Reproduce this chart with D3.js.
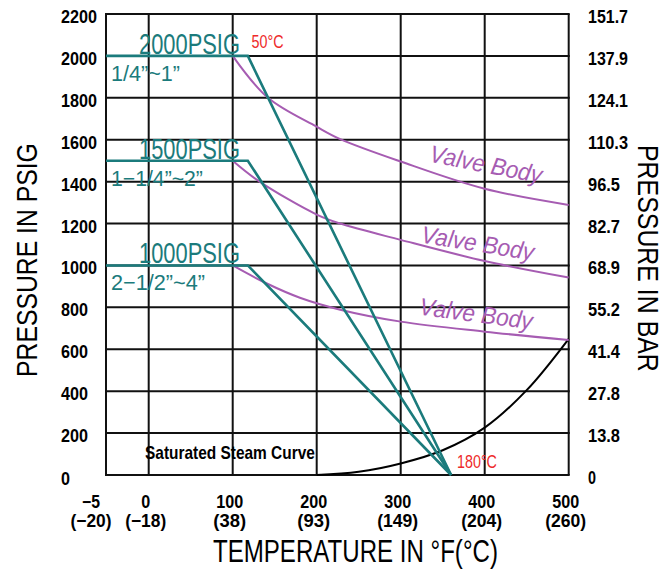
<!DOCTYPE html>
<html><head><meta charset="utf-8">
<script src="https://cdn.jsdelivr.net/npm/d3@7"></script>
<style>body{margin:0;background:#fff}svg{display:block}</style>
</head><body>
<svg id="c" width="665" height="572"></svg>
<script>
// ---- data ----
const tempTicks = [-5, 0, 100, 200, 300, 400, 500];
const tempTicksC = ["(\u221220)", "(\u221218)", "(38)", "(93)", "(149)", "(204)", "(260)"];
const psigTicks = [0, 200, 400, 600, 800, 1000, 1200, 1400, 1600, 1800, 2000, 2200];
const barTicks = ["0", "13.8", "27.8", "41.4", "55.2", "68.9", "82.7", "96.5", "110.3", "124.1", "137.9", "151.7"];
const ratingPsig = [2000, 1500, 1000];
const ratingLabels = ["2000PSIG", "1500PSIG", "1000PSIG"];
const sizeLabels = ["1/4\u201d~1\u201d", "1\u22121/4\u201d~2\u201d", "2\u22121/2\u201d~4\u201d"];
const seatStartTemp = -5, seatBendTemp = 118, seatZeroTemp = 360;
const valveBody2000 = [[100, 2000], [142, 1800], [200, 1662], [228, 1603], [300, 1496], [400, 1366], [500, 1289]];
const valveBody1500 = [[100, 1500], [132, 1400], [200, 1243], [228, 1200], [300, 1122], [400, 1021], [500, 942]];
const valveBody1000 = [[100, 1000], [140, 915], [180, 846], [228, 789], [300, 732], [400, 684], [500, 644]];
const steamCurve = [[200, 0], [250, 15], [300, 55], [350, 118], [400, 226], [450, 405], [500, 650]];
const tempNotes = ["50\u00b0C", "180\u00b0C"];

// ---- drawing ----
const svg = d3.select("#c");
const x = d3.scaleLinear().domain([-5, 0, 500]).range([106, 148.7, 568.7]);
const y = d3.scaleLinear().domain([0, 2200]).range([475, 14]);
const TEAL = "#1b7b7c", PURPLE = "#a65cb2", RED = "#ee2a2a";
const NARROW = "'Liberation Sans Narrow','Arial Narrow','Liberation Sans',sans-serif";
const THIN = "'Liberation Sans','DejaVu Sans',sans-serif";

// grid
const g = svg.append("g");
g.selectAll("line.v").data(tempTicks).enter().append("line")
  .attr("x1", d => x(d)).attr("x2", d => x(d)).attr("y1", y(2200)).attr("y2", y(0))
  .attr("stroke", "#111").attr("stroke-width", 2);
g.selectAll("line.h").data(psigTicks).enter().append("line")
  .attr("x1", x(-5) - 1).attr("x2", x(500) + 1).attr("y1", d => y(d)).attr("y2", d => y(d))
  .attr("stroke", "#111").attr("stroke-width", 2);

// scaled-text helper
function stretched(parent, str, tx, ty, size, w, sy, attrs) {
  const t = parent.append("text").attr("font-size", size).text(str);
  Object.entries(attrs || {}).forEach(([k, v]) => t.attr(k, v));
  const nat = t.node().getComputedTextLength() || w;
  const sx = w / nat;
  t.attr("transform", `translate(${tx},${ty}) scale(${sx},${sy})`);
  return t;
}

// left axis labels
psigTicks.forEach(d => {
  stretched(svg, String(d), 61, y(d) + 9 + (d === 0 ? 1 : 0), 17, String(d).length * 9, 1.05,
    {"font-family": NARROW, "font-weight": "bold"});
});
// right axis labels
psigTicks.forEach((d, i) => {
  stretched(svg, barTicks[i], 588, y(d) + 9, 17, barTicks[i].length * 8, 1.05,
    {"font-family": NARROW, "font-weight": "bold"});
});
// x axis labels
tempTicks.forEach((d, i) => {
  const cx = x(d) - (i === 0 ? 15 : 3);
  const s1 = d < 0 ? "\u2212" + Math.abs(d) : String(d);
  const w1 = s1.length * 9;
  stretched(svg, s1, cx - w1 / 2, 508, 17, w1, 1.05, {"font-family": NARROW, "font-weight": "bold"});
  const s2 = tempTicksC[i];
  const w2 = s2.length * 8.2;
  stretched(svg, s2, cx - w2 / 2, 527, 17, w2, 1.05, {"font-family": NARROW, "font-weight": "bold"});
});

// axis titles
stretched(svg.append("g").attr("transform", "translate(37,377) rotate(-90)"),
  "PRESSURE IN PSIG", 0, 0, 26, 234, 1.15, {"font-family": THIN});
stretched(svg.append("g").attr("transform", "translate(638,145) rotate(90)"),
  "PRESSURE IN BAR", 0, 0, 26, 227, 1.15, {"font-family": THIN});
stretched(svg, "TEMPERATURE IN \u00b0F(\u00b0C)", 213, 562, 28, 285, 1.15, {"font-family": THIN});

const line = d3.line().x(d => x(d[0])).y(d => y(d[1]));
const curve = d3.line().x(d => x(d[0])).y(d => y(d[1])).curve(d3.curveCatmullRom.alpha(0.5));

// steam curve
svg.append("path").attr("d", curve(steamCurve)).attr("fill", "none")
  .attr("stroke", "#000").attr("stroke-width", 2);

// valve body curves
[valveBody2000, valveBody1500, valveBody1000].forEach(c => {
  svg.append("path").attr("d", curve(c)).attr("fill", "none")
    .attr("stroke", PURPLE).attr("stroke-width", 2);
});

// seat rating lines
ratingPsig.forEach(p => {
  svg.append("path").attr("d", line([[seatStartTemp, p], [seatBendTemp, p], [seatZeroTemp, 0]]))
    .attr("fill", "none").attr("stroke", TEAL).attr("stroke-width", 2.6).attr("stroke-linejoin", "miter");
});

// rating labels
ratingPsig.forEach((p, i) => {
  stretched(svg, ratingLabels[i], 139, y(p) - 2, 22, 101, 1.3, {"font-family": THIN, "fill": TEAL});
  const w = [69, 92, 94][i];
  stretched(svg, sizeLabels[i], 111, y(p) + 25, 19, w, 1.15, {"font-family": THIN, "fill": TEAL});
});

// temperature notes
stretched(svg, tempNotes[0], 251.5, 48, 16, 32, 1.1, {"font-family": NARROW, "fill": RED});
stretched(svg, tempNotes[1], 457, 468, 16, 40, 1.1, {"font-family": NARROW, "fill": RED});

// saturated steam label
stretched(svg, "Saturated Steam Curve", 145, 459, 16, 170, 1.1, {"font-family": NARROW, "font-weight": "bold"});

// valve body labels
[[484.5, 172.5, 11], [476.5, 251.5, 9], [475, 322, 7.5]].forEach(v => {
  const gg = svg.append("g").attr("transform", `translate(${v[0]},${v[1]}) rotate(${v[2]})`);
  stretched(gg, "Valve Body", -57, 0, 22, 114, 1.1,
    {"font-family": THIN, "font-style": "italic", "fill": PURPLE});
});
</script>
</body></html>
